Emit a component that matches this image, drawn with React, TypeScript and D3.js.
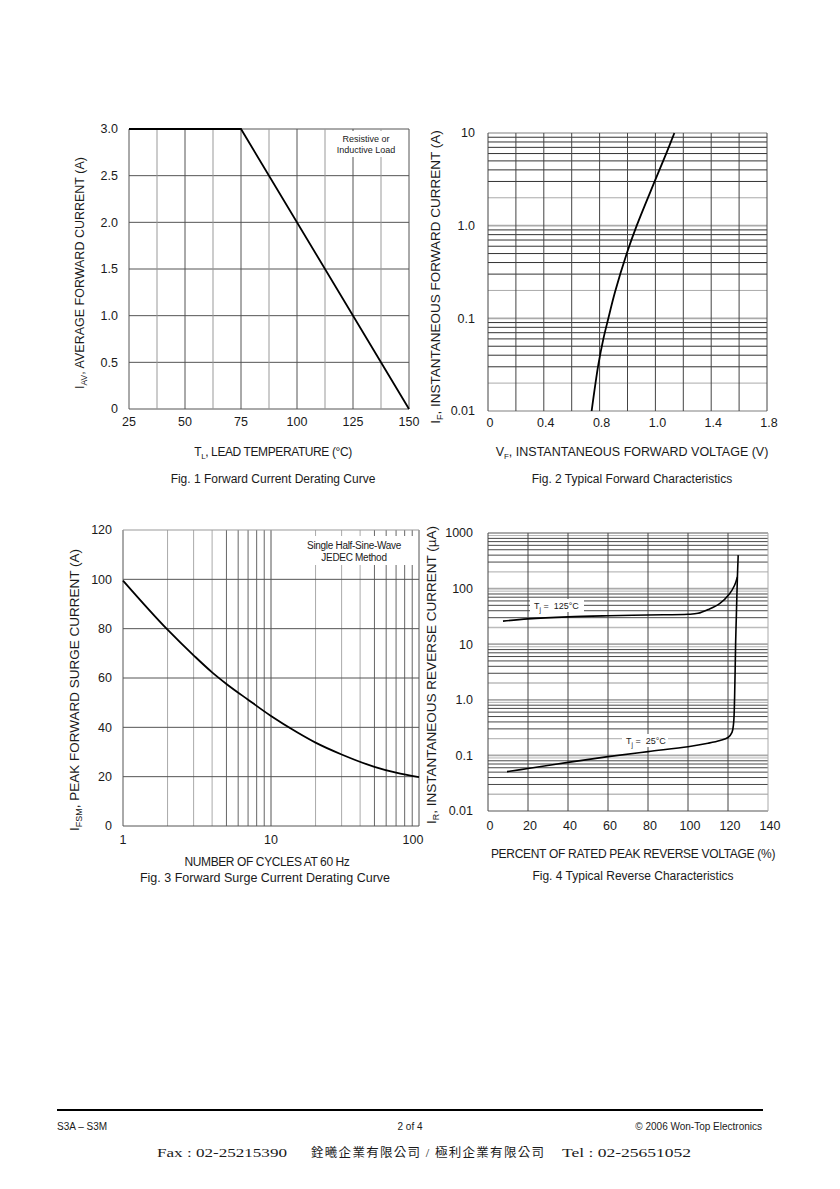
import React from 'react';
import * as d3 from 'd3';

// ---------- Fig. 1 data ----------
const fig1Temp = [25, 75, 150];
const fig1Current = [3.0, 3.0, 0];
const fig1XTicks = [25, 50, 75, 100, 125, 150];
const fig1XLabels = ['25', '50', '75', '100', '125', '150'];
const fig1YTicks = [0, 0.5, 1.0, 1.5, 2.0, 2.5, 3.0];
const fig1YLabels = ['0', '0.5', '1.0', '1.5', '2.0', '2.5', '3.0'];

// ---------- Fig. 2 data ----------
const fig2Voltage = [0.743, 0.791, 0.827, 0.862, 0.91, 0.994, 1.066, 1.197, 1.281, 1.336];
const fig2Current = [0.01, 0.0316, 0.06, 0.099, 0.191, 0.497, 1.0, 3.06, 6.18, 10];
const fig2XTicks = [0, 0.4, 0.8, 1.2, 1.6, 2.0];
const fig2XLabels = ['0', '0.4', '0.8', '1.0', '1.4', '1.8'];
const fig2YTicks = [0.01, 0.1, 1, 10];
const fig2YLabels = ['0.01', '0.1', '1.0', '10'];

// ---------- Fig. 3 data ----------
const fig3Cycles = [1, 2, 3, 4, 5, 7, 10, 15, 20, 30, 50, 70, 100];
const fig3Surge = [99.5, 79.6, 69.2, 62.3, 57.6, 51.2, 44.6, 38.0, 33.8, 29.0, 24.0, 21.6, 19.8];
const fig3XTicks = [1, 10, 100];
const fig3XLabels = ['1', '10', '100'];
const fig3YTicks = [0, 20, 40, 60, 80, 100, 120];
const fig3YLabels = ['0', '20', '40', '60', '80', '100', '120'];

// ---------- Fig. 4 data ----------
const fig4Pct125 = [7.5, 20, 40, 60, 80, 100, 105, 110, 115.8, 120.8, 123.3, 124.7];
const fig4Ir125 = [26, 28.5, 31, 32.5, 33.6, 34.5, 36, 42, 53.7, 81, 115, 162];
const fig4Pct25 = [9.5, 20, 40, 60, 80, 100, 110, 116, 120, 122, 122.8, 123.3, 123.8, 124.2, 124.7, 125.1];
const fig4Ir25 = [0.051, 0.058, 0.075, 0.095, 0.117, 0.143, 0.165, 0.185, 0.21, 0.26, 0.38, 1.1, 10, 35, 160, 400];
const fig4XTicks = [0, 20, 40, 60, 80, 100, 120, 140];
const fig4XLabels = ['0', '20', '40', '60', '80', '100', '120', '140'];
const fig4YTicks = [0.01, 0.1, 1, 10, 100, 1000];
const fig4YLabels = ['0.01', '0.1', '1.0', '10', '100', '1000'];

const SANS = "'Liberation Sans', Arial, Helvetica, sans-serif";
const SERIF_CJK = "'Liberation Serif', 'Noto Sans CJK TC', serif";
const TXT = '#1a1a1a';

function logGrid(minExp: number, maxExp: number) {
  const out: { v: number; major: boolean; k: number }[] = [];
  for (let e = minExp; e < maxExp; e++) {
    for (let k = 1; k < 10; k++) out.push({ v: k * Math.pow(10, e), major: k === 1, k });
  }
  out.push({ v: Math.pow(10, maxExp), major: true, k: 1 });
  return out;
}

function Fig1() {
  const x = d3.scaleLinear().domain([25, 150]).range([129, 409]);
  const y = d3.scaleLinear().domain([0, 3]).range([409, 129]);
  const vGrid = d3.range(25, 150.01, 12.5);
  const line = d3.line<number>().x((d, i) => x(fig1Temp[i])).y((d) => y(d));
  return (
    <g>
      {fig1YTicks.map((t) => (
        <line key={'h' + t} x1={129} x2={409} y1={y(t)} y2={y(t)} stroke="#555" strokeWidth={1} />
      ))}
      {vGrid.map((t, i) => (
        <line key={'v' + t} x1={x(t)} x2={x(t)} y1={129} y2={409} stroke={i % 2 === 1 ? '#999' : '#555'} strokeWidth={1} />
      ))}
      <rect x={329} y={131} width={76} height={26} fill="#fff" />
      <text x={366} y={142} fontSize={9} textAnchor="middle" fontFamily={SANS} fill={TXT}>Resistive or</text>
      <text x={366} y={153} fontSize={9} textAnchor="middle" fontFamily={SANS} fill={TXT}>Inductive Load</text>
      <path d={line(fig1Current) || ''} fill="none" stroke="#000" strokeWidth={1.8} />
      {fig1YTicks.map((t, i) => (
        <text key={'yl' + t} x={118} y={y(t)} dy="0.35em" fontSize={12.5} textAnchor="end" fontFamily={SANS} fill={TXT}>{fig1YLabels[i]}</text>
      ))}
      {fig1XTicks.map((t, i) => (
        <text key={'xl' + t} x={x(t)} y={422} dy="0.35em" fontSize={12.5} textAnchor="middle" fontFamily={SANS} fill={TXT}>{fig1XLabels[i]}</text>
      ))}
      <text x={273} y={456} fontSize={12} textAnchor="middle" fontFamily={SANS} fill={TXT} letterSpacing={-0.4}>
        T<tspan fontSize={8} dy={3}>L</tspan><tspan dy={-3}>, LEAD TEMPERATURE (°C)</tspan>
      </text>
      <text transform="translate(84,273) rotate(-90)" fontSize={12.5} textAnchor="middle" fontFamily={SANS} fill={TXT}>
        I<tspan fontSize={8.5} dy={3}>AV</tspan><tspan dy={-3}>, AVERAGE FORWARD CURRENT (A)</tspan>
      </text>
      <text x={273} y={483} fontSize={12} textAnchor="middle" fontFamily={SANS} fill={TXT}>Fig. 1  Forward Current Derating Curve</text>
    </g>
  );
}

function Fig2() {
  const L = 488, R = 767, T = 133, B = 411;
  const x = d3.scaleLinear().domain([0, 2.0]).range([L, R]);
  const y = d3.scaleLog().domain([0.01, 10]).range([B, T]);
  const vGrid = d3.range(0, 2.001, 0.2);
  const hGrid = logGrid(-2, 1);
  const line = d3.line<number>().x((d, i) => x(fig2Voltage[i])).y((d) => y(d)).curve(d3.curveCatmullRom);
  return (
    <g>
      {hGrid.map((g) => (
        <line key={'h' + g.v} x1={L} x2={R} y1={y(g.v)} y2={y(g.v)} stroke={g.major ? '#aaa' : g.k === 2 ? '#aaa' : '#333'} strokeWidth={g.major ? 1.6 : 1} />
      ))}
      {vGrid.map((t) => (
        <line key={'v' + t} x1={x(t)} x2={x(t)} y1={T} y2={B} stroke="#444" strokeWidth={1} />
      ))}
      <path d={line(fig2Current) || ''} fill="none" stroke="#000" strokeWidth={1.8} />
      {fig2YTicks.map((t, i) => (
        <text key={'yl' + t} x={475} y={y(t)} dy="0.35em" fontSize={12.5} textAnchor="end" fontFamily={SANS} fill={TXT}>{fig2YLabels[i]}</text>
      ))}
      {fig2XTicks.map((t, i) => (
        <text key={'xl' + t} x={x(t) + 2} y={423} dy="0.35em" fontSize={12.5} textAnchor="middle" fontFamily={SANS} fill={TXT}>{fig2XLabels[i]}</text>
      ))}
      <text x={632} y={456} fontSize={12.5} textAnchor="middle" fontFamily={SANS} fill={TXT}>
        V<tspan fontSize={8} dy={3}>F</tspan><tspan dy={-3}>, INSTANTANEOUS FORWARD VOLTAGE (V)</tspan>
      </text>
      <text transform="translate(440,277) rotate(-90)" fontSize={13.5} textAnchor="middle" fontFamily={SANS} fill={TXT}>
        I<tspan fontSize={9} dy={3}>F</tspan><tspan dy={-3}>, INSTANTANEOUS FORWARD CURRENT (A)</tspan>
      </text>
      <text x={632} y={483} fontSize={12} textAnchor="middle" fontFamily={SANS} fill={TXT}>Fig. 2  Typical Forward Characteristics</text>
    </g>
  );
}

function Fig3() {
  const L = 123, R = 419, T = 530, B = 826;
  const x = d3.scaleLog().domain([1, 100]).range([L, R]);
  const y = d3.scaleLinear().domain([0, 120]).range([B, T]);
  const vGrid = logGrid(0, 2);
  const line = d3.line<number>().x((d, i) => x(fig3Cycles[i])).y((d) => y(d)).curve(d3.curveMonotoneX);
  return (
    <g>
      {vGrid.map((g) => (
        <line key={'v' + g.v} x1={x(g.v)} x2={x(g.v)} y1={T} y2={B} stroke={g.major ? '#555' : g.k >= 5 ? '#666' : '#aaa'} strokeWidth={1} />
      ))}
      {fig3YTicks.map((t) => (
        <line key={'h' + t} x1={L} x2={R} y1={y(t)} y2={y(t)} stroke={t === 120 ? '#999' : '#555'} strokeWidth={1} />
      ))}
      <rect x={296} y={536} width={117} height={29} fill="#fff" />
      <text x={354} y={549} fontSize={10} textAnchor="middle" fontFamily={SANS} fill={TXT} letterSpacing={-0.3}>Single Half-Sine-Wave</text>
      <text x={354} y={561} fontSize={10} textAnchor="middle" fontFamily={SANS} fill={TXT} letterSpacing={-0.3}>JEDEC Method</text>
      <path d={line(fig3Surge) || ''} fill="none" stroke="#000" strokeWidth={1.8} />
      {fig3YTicks.map((t, i) => (
        <text key={'yl' + t} x={112} y={y(t)} dy="0.35em" fontSize={12.5} textAnchor="end" fontFamily={SANS} fill={TXT}>{fig3YLabels[i]}</text>
      ))}
      {fig3XTicks.map((t, i) => (
        <text key={'xl' + t} x={x(t) - (i === 2 ? 6 : 0)} y={840} dy="0.35em" fontSize={12.5} textAnchor="middle" fontFamily={SANS} fill={TXT}>{fig3XLabels[i]}</text>
      ))}
      <text x={267} y={866} fontSize={12} textAnchor="middle" fontFamily={SANS} fill={TXT} letterSpacing={-0.4}>NUMBER OF CYCLES AT 60 Hz</text>
      <text transform="translate(79,690) rotate(-90)" fontSize={13.5} textAnchor="middle" fontFamily={SANS} fill={TXT}>
        I<tspan fontSize={9} dy={3}>FSM</tspan><tspan dy={-3}>, PEAK FORWARD SURGE CURRENT (A)</tspan>
      </text>
      <text x={265} y={882} fontSize={12.5} textAnchor="middle" fontFamily={SANS} fill={TXT}>Fig. 3  Forward Surge Current Derating Curve</text>
    </g>
  );
}

function Fig4() {
  const L = 488, R = 768, T = 533, B = 811;
  const x = d3.scaleLinear().domain([0, 140]).range([L, R]);
  const y = d3.scaleLog().domain([0.01, 1000]).range([B, T]);
  const hGrid = logGrid(-2, 3);
  const line125 = d3.line<number>().x((d, i) => x(fig4Pct125[i])).y((d) => y(d)).curve(d3.curveCatmullRom);
  const line25 = d3.line<number>().x((d, i) => x(fig4Pct25[i])).y((d) => y(d)).curve(d3.curveCatmullRom);
  return (
    <g>
      {hGrid.map((g) => (
        <line key={'h' + g.v} x1={L} x2={R} y1={y(g.v)} y2={y(g.v)} stroke={g.major || g.k === 9 ? '#aaa' : g.k === 2 ? '#bbb' : '#333'} strokeWidth={g.major ? 1.8 : g.k === 2 ? 1.4 : 0.9} />
      ))}
      {fig4XTicks.map((t, i) => (
        <line key={'v' + t} x1={x(t)} x2={x(t)} y1={T} y2={B} stroke={i === fig4XTicks.length - 1 ? '#aaa' : '#444'} strokeWidth={1} />
      ))}
      <rect x={530} y={599} width={54} height={13} fill="#fff" />
      <text x={534} y={609} fontSize={9} fontFamily={SANS} fill={TXT} style={{ whiteSpace: 'pre' }}>
        T<tspan fontSize={6.5} dy={2.5}>j</tspan><tspan dy={-2.5}>{' =  125°C'}</tspan>
      </text>
      <rect x={622} y={734} width={46} height={13} fill="#fff" />
      <text x={626} y={744} fontSize={9} fontFamily={SANS} fill={TXT} style={{ whiteSpace: 'pre' }}>
        T<tspan fontSize={6.5} dy={2.5}>j</tspan><tspan dy={-2.5}>{' =  25°C'}</tspan>
      </text>
      <path d={line125(fig4Ir125) || ''} fill="none" stroke="#000" strokeWidth={1.6} />
      <path d={line25(fig4Ir25) || ''} fill="none" stroke="#000" strokeWidth={1.6} />
      {fig4YTicks.map((t, i) => (
        <text key={'yl' + t} x={473} y={y(t)} dy="0.35em" fontSize={12.5} textAnchor="end" fontFamily={SANS} fill={TXT}>{fig4YLabels[i]}</text>
      ))}
      {fig4XTicks.map((t, i) => (
        <text key={'xl' + t} x={x(t) + 2} y={826} dy="0.35em" fontSize={12.5} textAnchor="middle" fontFamily={SANS} fill={TXT}>{fig4XLabels[i]}</text>
      ))}
      <text x={633} y={858} fontSize={12} textAnchor="middle" fontFamily={SANS} fill={TXT} letterSpacing={-0.3}>PERCENT OF RATED PEAK REVERSE VOLTAGE (%)</text>
      <text transform="translate(436,675) rotate(-90)" fontSize={13.5} textAnchor="middle" fontFamily={SANS} fill={TXT}>
        I<tspan fontSize={9} dy={3}>R</tspan><tspan dy={-3}>, INSTANTANEOUS REVERSE CURRENT (µA)</tspan>
      </text>
      <text x={633} y={880} fontSize={12} textAnchor="middle" fontFamily={SANS} fill={TXT}>Fig. 4  Typical Reverse Characteristics</text>
    </g>
  );
}

function Footer() {
  return (
    <g>
      <line x1={57} x2={763} y1={1110} y2={1110} stroke="#000" strokeWidth={2} />
      <text x={57} y={1130} fontSize={10} fontFamily={SANS} fill={TXT}>S3A – S3M</text>
      <text x={410} y={1130} fontSize={10} textAnchor="middle" fontFamily={SANS} fill={TXT}>2 of 4</text>
      <text x={762} y={1130} fontSize={10} textAnchor="end" fontFamily={SANS} fill={TXT}>© 2006 Won-Top Electronics</text>
      <text x={157} y={1157} fontSize={13} fontFamily={SERIF_CJK} fill={TXT} textLength={130} lengthAdjust="spacingAndGlyphs">Fax : 02-25215390</text>
      <text x={311} y={1157} fontSize={12.5} fontFamily={SERIF_CJK} fill={TXT} textLength={233} lengthAdjust="spacing">銓曦企業有限公司 / 極利企業有限公司</text>
      <text x={562} y={1157} fontSize={13} fontFamily={SERIF_CJK} fill={TXT} textLength={129} lengthAdjust="spacingAndGlyphs">Tel : 02-25651052</text>
    </g>
  );
}

export default function App() {
  return (
    <svg width={840} height={1189} viewBox="0 0 840 1189" style={{ position: 'absolute', left: 0, top: 0, background: '#fff' }}>
      <rect x={0} y={0} width={840} height={1189} fill="#fff" />
      <Fig1 />
      <Fig2 />
      <Fig3 />
      <Fig4 />
      <Footer />
    </svg>
  );
}
